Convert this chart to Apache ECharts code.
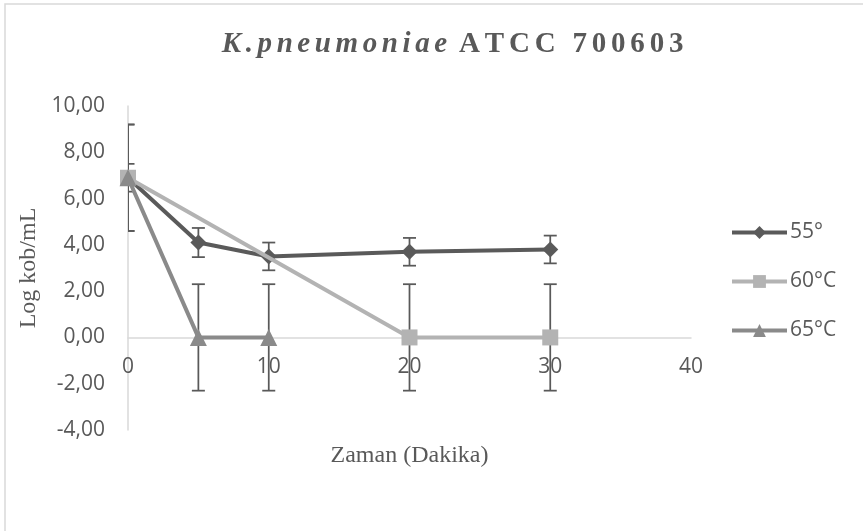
<!DOCTYPE html>
<html><head><meta charset="utf-8">
<script src="https://cdn.jsdelivr.net/npm/echarts@6/dist/echarts.min.js"></script>
<style>html,body{margin:0;padding:0;background:#fff}#c{width:863px;height:531px}</style>
</head><body><div id="c"></div>
<script>
const titleItalic = 'K.pneumoniae';
const titleBold = 'ATCC 700603';
const seriesNames = ['55°', '60°C', '65°C'];
const times55 = [0, 5, 10, 20, 30];
const vals55 = [6.9, 4.1, 3.5, 3.7, 3.8];
const err55 = [0.6, 0.63, 0.6, 0.6, 0.6];
const times60 = [0, 20, 30];
const vals60 = [6.9, 0, 0];
const err60 = [2.3, 2.3, 2.3];
const times65 = [0, 5, 10];
const vals65 = [6.9, 0, 0];
const err65 = [2.3, 2.3, 2.3];
const yTicks = { min: -4, max: 10, interval: 2 };
const xTicks = { min: 0, max: 40, interval: 10 };

const txt = '#595959';
const axisGray = '#d9d9d9';
const colors = ['#5a5a5a', '#b3b3b3', '#8a8a8a'];
const symbols = ['diamond', 'rect', 'triangle'];
const symSizes = [16, 16, 17];

const gridTop = 106, gridBottom = 101, chartH = 531;
const gridH = chartH - gridTop - gridBottom;
// shift the x axis up so that it crosses the y axis at value 0
const xAxisOffset = -((0 - yTicks.min) / (yTicks.max - yTicks.min)) * gridH;

function pts(t, v) { return t.map((x, i) => [x, v[i]]); }
function errPts(t, v, e) { return t.map((x, i) => [x, v[i], e[i]]); }
function spaced(str, style) {
  return str.split('').map(ch => '{' + style + '|' + (ch === ' ' ? '\u00a0' : ch) + '}').join('');
}

function renderErr(params, api) {
  const x = api.value(0), y = api.value(1), e = api.value(2);
  const top = api.coord([x, y + e]);
  const bot = api.coord([x, y - e]);
  const w = 6.5;
  const st = { stroke: '#595959', lineWidth: 1.75 };
  return { type: 'group', children: [
    { type: 'line', shape: { x1: top[0], y1: top[1], x2: bot[0], y2: bot[1] }, style: st },
    { type: 'line', shape: { x1: top[0] - w, y1: top[1], x2: top[0] + w, y2: top[1] }, style: st },
    { type: 'line', shape: { x1: bot[0] - w, y1: bot[1], x2: bot[0] + w, y2: bot[1] }, style: st }
  ]};
}

const lineData = [pts(times55, vals55), pts(times60, vals60), pts(times65, vals65)];
const errData = [errPts(times55, vals55, err55), errPts(times60, vals60, err60), errPts(times65, vals65, err65)];

const series = [];
errData.forEach((d, i) => {
  series.push({ type: 'custom', name: 'err' + i, data: d, renderItem: renderErr, clip: true, z: 1, silent: true, tooltip: { show: false } });
});
lineData.forEach((d, i) => {
  series.push({
    type: 'line', name: seriesNames[i], data: d, z: 3 + i,
    symbol: symbols[i], symbolSize: symSizes[i], showAllSymbol: true,
    lineStyle: { color: colors[i], width: 4 },
    itemStyle: { color: colors[i] },
    emphasis: { disabled: true }
  });
});

const chart = echarts.init(document.getElementById('c'), null, { renderer: 'canvas' });
chart.setOption({
  animation: false,
  backgroundColor: '#fff',
  title: {
    text: spaced(titleItalic, 'i') + '{s|\u00a0}' + spaced(titleBold, 'b'),
    left: 455, top: 30, textAlign: 'center', padding: 0,
    textStyle: {
      rich: {
        i: { fontFamily: 'Liberation Serif', fontStyle: 'italic', fontWeight: 'bold', fontSize: 29, color: txt, padding: [0, 4.6, 0, 0] },
        b: { fontFamily: 'Liberation Serif', fontWeight: 'bold', fontSize: 29, color: txt, padding: [0, 4.8, 0, 0] },
        s: { fontFamily: 'Liberation Serif', fontSize: 29, color: txt }
      }
    }
  },
  legend: {
    data: seriesNames, orient: 'vertical', left: 730, top: 222, padding: 0,
    itemWidth: 55, itemHeight: 16, itemGap: 28,
    lineStyle: { width: 4 },
    textStyle: { fontFamily: 'Open Sans', fontSize: 21, color: txt, lineHeight: 20, padding: [0, 0, 0, -2] }
  },
  grid: { left: 128, right: 172, top: gridTop, bottom: gridBottom, containLabel: false, outerBoundsMode: 'none' },
  xAxis: {
    type: 'value', min: xTicks.min, max: xTicks.max, interval: xTicks.interval,
    offset: xAxisOffset,
    name: 'Zaman (Dakika)', nameLocation: 'middle', nameGap: 106,
    nameTextStyle: { fontFamily: 'Liberation Serif', fontSize: 24, color: txt },
    axisLine: { show: true, onZero: false, lineStyle: { color: axisGray, width: 1.5 } },
    axisTick: { show: false },
    splitLine: { show: false },
    axisLabel: { fontFamily: 'Open Sans', fontSize: 21, color: txt, margin: 19 }
  },
  yAxis: {
    type: 'value', min: yTicks.min, max: yTicks.max, interval: yTicks.interval,
    name: 'Log kob/mL', nameLocation: 'middle', nameGap: 82,
    nameTextStyle: { fontFamily: 'Liberation Serif', fontSize: 24, color: txt },
    axisLine: { show: true, lineStyle: { color: axisGray, width: 1.5 } },
    axisTick: { show: false },
    splitLine: { show: false },
    axisLabel: { fontFamily: 'Open Sans', fontSize: 21, color: txt, margin: 23,
      formatter: v => v.toFixed(2).replace('.', ',') }
  },
  graphic: [{
    type: 'rect', shape: { x: 5, y: 4, width: 1000, height: 1000 },
    style: { fill: 'none', stroke: axisGray, lineWidth: 1.5 }, silent: true, z: -1
  }],
  series: series
});
</script></body></html>
